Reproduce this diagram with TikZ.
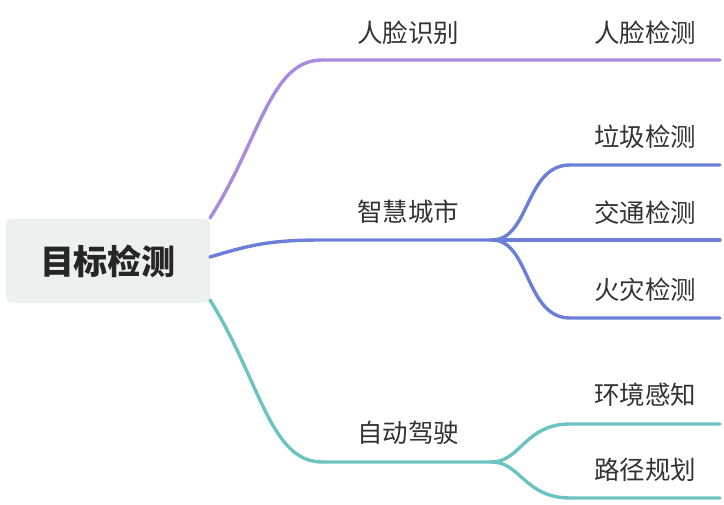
\documentclass[tikz,border=0pt]{standalone}
\usepackage{fontspec}
\setmainfont{Noto Sans CJK SC}
\begin{document}
\begin{tikzpicture}[x=1pt,y=-1pt,
  lab/.style={font=\fontsize{25.5}{29}\selectfont, text=black!80},
  br/.style={line width=3.4pt, line cap=round}]
\useasboundingbox (0,0) rectangle (724,505);
\definecolor{pur}{HTML}{A88BDC}
\definecolor{blu}{HTML}{6B7FD8}
\definecolor{tea}{HTML}{6CC4C2}
\node[fill={rgb,255:red,238;green,240;blue,239}, rounded corners=6pt, minimum width=204pt, minimum height=84pt, font=\bfseries\fontsize{34}{38}\selectfont, text=black!85] (root) at (108,261) {目标检测};
\coordinate (p0) at (210,218); \coordinate (p1) at (322,60); \coordinate (p2) at (720,60);
\coordinate (b0) at (210,257); \coordinate (b1) at (322,240); \coordinate (b2) at (492,240);
\coordinate (t0) at (210,300); \coordinate (t1) at (322,462); \coordinate (t2) at (492,462);
\draw[br,pur] (p0) .. controls (260,140) and (270,60) .. (p1) -- (p2);
\draw[br,blu] (b0) .. controls (250,245) and (270,240) .. (b1) -- (b2);
\draw[br,tea] (t0) .. controls (260,380) and (270,462) .. (t1) -- (t2);
\coordinate (s1) at (570,165); \coordinate (s2) at (570,240); \coordinate (s3) at (570,318);
\draw[br,blu] (b2) .. controls (530,240) and (525,165) .. (s1) -- (720,165);
\draw[br,blu] (b2) -- (720,240);
\draw[br,blu] (b2) .. controls (530,240) and (525,318) .. (s3) -- (720,318);
\coordinate (e1) at (570,424); \coordinate (e2) at (570,498);
\draw[br,tea] (t2) .. controls (520,462) and (525,424) .. (e1) -- (720,424);
\draw[br,tea] (t2) .. controls (520,462) and (525,498) .. (e2) -- (720,498);
\node[lab] (l1) at (408,33) {人脸识别};
\node[lab] (l2) at (645,33) {人脸检测};
\node[lab] (l3) at (408,212) {智慧城市};
\node[lab] (l4) at (645,137) {垃圾检测};
\node[lab] (l5) at (645,213) {交通检测};
\node[lab] (l6) at (645,290) {火灾检测};
\node[lab] (l7) at (408,433) {自动驾驶};
\node[lab] (l8) at (645,395) {环境感知};
\node[lab] (l9) at (645,470) {路径规划};
\end{tikzpicture}
\end{document}
